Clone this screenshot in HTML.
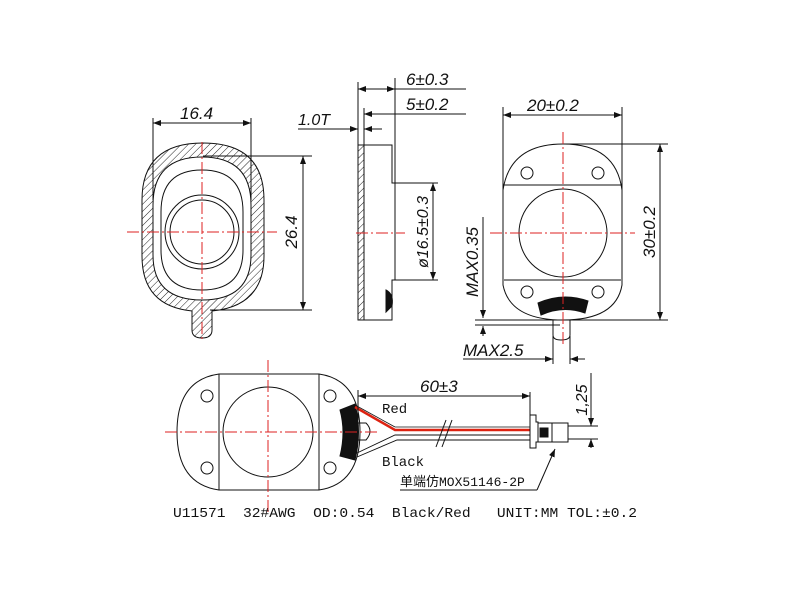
<!DOCTYPE html>
<html><head><meta charset="utf-8"><style>
html,body{margin:0;padding:0;background:#fff;width:800px;height:600px;overflow:hidden}
svg{display:block}
text{font-family:"Liberation Sans",sans-serif;font-style:italic;fill:#111}
.m{font-family:"Liberation Mono","Noto Sans CJK SC",monospace;font-style:normal;white-space:pre}
</style></head><body>
<svg width="800" height="600" viewBox="0 0 800 600" xmlns="http://www.w3.org/2000/svg">
<defs>
<pattern id="h" width="5" height="5" patternUnits="userSpaceOnUse" patternTransform="rotate(45)">
<line x1="0" y1="0" x2="0" y2="5" stroke="#222" stroke-width="1"/></pattern>
<marker id="a" markerWidth="8" markerHeight="6" refX="8" refY="3" orient="auto-start-reverse" markerUnits="userSpaceOnUse"><path d="M0,0 L8,3 L0,6z" fill="#111"/></marker>
</defs>
<g fill="none" stroke="#111" stroke-width="1">
<!-- View 1 -->
<path fill-rule="evenodd" fill="url(#h)" d="M142,200 Q142,143 203,143 Q264,143 264,200 L264,256 Q264,306 212,311 L212,330 Q212,338 202,338 Q192,338 192,330 L192,311 Q142,306 142,256Z M153,205 Q153,157 202,157 Q251,157 251,205 L251,255 Q251,300 202,300 Q153,300 153,255Z"/>
<path d="M161,212 Q161,170 202,170 Q243,170 243,212 L243,250 Q243,290 202,290 Q161,290 161,250Z"/>
<circle cx="202" cy="232" r="37"/><circle cx="202" cy="232" r="32"/>
<line x1="153" y1="118" x2="153" y2="200"/><line x1="251" y1="118" x2="251" y2="200"/>
<line x1="153" y1="123" x2="251" y2="123" marker-start="url(#a)" marker-end="url(#a)"/>
<line x1="203" y1="156" x2="312" y2="156"/><line x1="210" y1="310" x2="312" y2="310"/>
<line x1="303" y1="156" x2="303" y2="310" marker-start="url(#a)" marker-end="url(#a)"/>
<!-- View 2 -->
<rect x="358" y="145" width="6" height="175" fill="url(#h)"/>
<path d="M364,145 L392,145 L392,183 L395,183 L395,280 L392,280 L392,320 L364,320"/>
<path d="M386,290 Q394,294 392,306 L386,312Z" fill="#111"/>
<line x1="358" y1="82" x2="358" y2="145"/><line x1="364" y1="108" x2="364" y2="145"/><line x1="395" y1="78" x2="395" y2="183"/>
<line x1="358" y1="89" x2="395" y2="89" marker-start="url(#a)" marker-end="url(#a)"/>
<line x1="395" y1="89" x2="466" y2="89"/>
<line x1="364" y1="114" x2="395" y2="114" marker-start="url(#a)"/>
<line x1="395" y1="114" x2="466" y2="114"/>
<line x1="298" y1="129" x2="358" y2="129" marker-end="url(#a)"/>
<line x1="364" y1="129" x2="382" y2="129" marker-start="url(#a)"/>
<line x1="395" y1="183" x2="438" y2="183"/><line x1="395" y1="280" x2="438" y2="280"/>
<line x1="433" y1="183" x2="433" y2="280" marker-start="url(#a)" marker-end="url(#a)"/>
<!-- View 3 -->
<path d="M503,190 Q510,144 563,144 Q616,144 622,190 L622,285 Q616,320 563,320 Q510,320 503,285Z"/>
<line x1="504" y1="185" x2="621" y2="185"/><line x1="504" y1="280" x2="621" y2="280"/>
<circle cx="563" cy="233" r="44"/>
<circle cx="527" cy="173" r="6"/><circle cx="598" cy="173" r="6"/><circle cx="527" cy="292" r="6"/><circle cx="598" cy="292" r="6"/>
<path d="M538,303 Q563,292 588,301 L585,313 Q563,305 541,315Z" fill="#111"/>
<path d="M553,320 L553,335 Q553,340 561,340 Q570,340 570,335 L570,320"/>
<line x1="503" y1="107" x2="503" y2="190"/><line x1="622" y1="107" x2="622" y2="190"/>
<line x1="503" y1="115" x2="622" y2="115" marker-start="url(#a)" marker-end="url(#a)"/>
<line x1="563" y1="144" x2="668" y2="144"/><line x1="475" y1="320" x2="668" y2="320"/>
<line x1="660" y1="144" x2="660" y2="320" marker-start="url(#a)" marker-end="url(#a)"/>
<line x1="483" y1="217" x2="483" y2="318" marker-end="url(#a)"/>
<line x1="483" y1="336" x2="483" y2="326" marker-end="url(#a)"/><line x1="475" y1="325" x2="560" y2="325"/>
<line x1="553" y1="336" x2="553" y2="364"/><line x1="570" y1="336" x2="570" y2="364"/>
<line x1="463" y1="359" x2="553" y2="359"/><line x1="540" y1="359" x2="553" y2="359" marker-end="url(#a)"/>
<line x1="585" y1="359" x2="570" y2="359" marker-end="url(#a)"/>
<!-- View 4 -->
<path d="M219,374 L319,374 Q360,380 360,432 Q360,484 319,490 L219,490 Q177,484 177,432 Q177,380 219,374Z"/>
<line x1="219" y1="374" x2="219" y2="490"/><line x1="319" y1="374" x2="319" y2="490"/>
<circle cx="268" cy="432" r="45"/>
<circle cx="207" cy="396" r="6"/><circle cx="207" cy="468" r="6"/><circle cx="330" cy="396" r="6"/><circle cx="330" cy="468" r="6"/>
<path d="M340,410 L355,404 Q362,432 355,460 L340,456 Q346,432 340,410Z" fill="#111"/>
<path d="M358,423 L366,423 Q374,431 366,440 L358,440"/>
<path d="M357,453 L395,435 L530,435 M357,457 L397,440 L530,440" stroke-width="0.9"/>
<path d="M355,407 L395,430 L530,430" stroke="#d21" stroke-width="2.5"/>
<line x1="355" y1="405" x2="395" y2="427" stroke-width="0.8"/><line x1="395" y1="427" x2="530" y2="427" stroke-width="0.8"/>
<line x1="436" y1="447" x2="446" y2="420" stroke-width="1"/><line x1="442" y1="447" x2="452" y2="420" stroke-width="1"/>
<path d="M530,415 L536,415 L536,422 L538,422 L538,442 L536,442 L536,448 L530,448Z"/>
<rect x="538" y="423" width="30" height="19"/><line x1="552" y1="423" x2="552" y2="442"/>
<rect x="540" y="428" width="8" height="9" fill="#111"/>
<line x1="568" y1="426" x2="598" y2="426"/><line x1="568" y1="439" x2="598" y2="439"/>
<line x1="358" y1="390" x2="358" y2="420"/><line x1="530" y1="392" x2="530" y2="415"/>
<line x1="358" y1="396" x2="530" y2="396" marker-start="url(#a)" marker-end="url(#a)"/>
<line x1="591" y1="373" x2="591" y2="426" marker-end="url(#a)"/><line x1="591" y1="448" x2="591" y2="439" marker-end="url(#a)"/>
<line x1="400" y1="490" x2="537" y2="490"/><line x1="537" y1="490" x2="555" y2="449" marker-end="url(#a)"/>
</g>
<!-- center lines -->
<g stroke="#d22" stroke-width="1" stroke-dasharray="12,3,2,3" fill="none">
<line x1="127" y1="232" x2="277" y2="232"/><line x1="202" y1="142" x2="202" y2="340"/>
<line x1="356" y1="233" x2="405" y2="233"/>
<line x1="490" y1="233" x2="635" y2="233"/><line x1="563" y1="132" x2="563" y2="345"/>
<line x1="165" y1="432" x2="380" y2="432"/><line x1="268" y1="360" x2="268" y2="515"/>
</g>
<g font-size="17">
<text x="180" y="119">16.4</text>
<text x="298" y="125" font-size="16">1.0T</text>
<text x="406" y="85">6±0.3</text>
<text x="406" y="110">5±0.2</text>
<text x="527" y="111">20±0.2</text>
<text transform="translate(297,232) rotate(-90)" text-anchor="middle">26.4</text>
<text transform="translate(428,232) rotate(-90)" text-anchor="middle" font-size="16">ø16.5±0.3</text>
<text transform="translate(655,232) rotate(-90)" text-anchor="middle">30±0.2</text>
<text transform="translate(478,262) rotate(-90)" text-anchor="middle">MAX0.35</text>
<text x="463" y="356">MAX2.5</text>
<text x="420" y="392">60±3</text>
<text transform="translate(587,400) rotate(-90)" text-anchor="middle" font-size="16">1,25</text>
</g>
<g font-size="14">
<text class="m" x="382" y="413">Red</text>
<text class="m" x="382" y="466">Black</text>
<text class="m" x="400" y="486" font-size="13">单端仿MOX51146-2P</text>
<text class="m" x="173" y="517" font-size="14" textLength="464" lengthAdjust="spacingAndGlyphs" xml:space="preserve">U11571  32#AWG  OD:0.54  Black/Red   UNIT:MM TOL:±0.2</text>
</g>
</svg>
</body></html>
